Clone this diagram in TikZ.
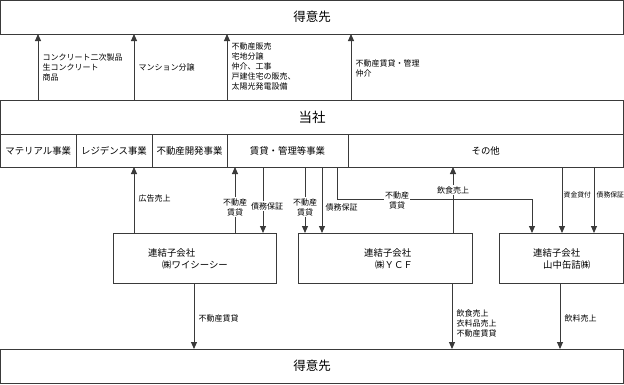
\documentclass[tikz,border=0pt]{standalone}
\usepackage{fontspec}
\setmainfont{Noto Sans CJK JP}
\usetikzlibrary{arrows.meta}
\definecolor{lc}{HTML}{3A3A3A}
\tikzset{
  frame/.style={draw=lc, line width=1pt, inner sep=0pt, outer sep=0pt},
  conn/.style={draw=lc, line width=0.9pt},
  arr/.style={conn, -{Triangle[length=7pt,width=6pt]}},
  lab/.style={font=\fontsize{8}{10}\selectfont, inner sep=0.5pt, align=left, text=black},
  slab/.style={lab, font=\fontsize{6.8}{9}\selectfont},
  wlab/.style={lab, fill=white, align=center, inner sep=1pt},
  boxtxt/.style={font=\fontsize{9.4}{11}\selectfont, inner sep=0pt, anchor=west},
  segtxt/.style={frame, font=\fontsize{9.4}{11}\selectfont, minimum height=33pt},
}
\begin{document}
\begin{tikzpicture}[x=1pt,y=-1pt]
\useasboundingbox (0,0) rectangle (624,384);
% main boxes
\node[frame, minimum width=623pt, minimum height=33.5pt, font=\fontsize{12.5}{14}\selectfont] (top) at (312,17.25) {得意先};
\node[frame, minimum width=623pt, minimum height=34pt, font=\fontsize{13.5}{15}\selectfont] (tosha) at (312,117) {当社};
\node[segtxt, minimum width=75.5pt] (seg1) at (38.25,150.5) {マテリアル事業};
\node[segtxt, minimum width=76pt] (seg2) at (114,150.5) {レジデンス事業};
\node[segtxt, minimum width=75pt] (seg3) at (189.5,150.5) {不動産開発事業};
\node[segtxt, minimum width=121pt] (seg4) at (287.5,150.5) {賃貸・管理等事業};
\node[segtxt, minimum width=275.5pt] (seg5) at (485.75,150.5) {その他};
\node[frame, minimum width=623pt, minimum height=34.5pt, font=\fontsize{12.5}{14}\selectfont] (bottom) at (312,366.25) {得意先};
% subsidiaries
\node[frame, minimum width=163pt, minimum height=50pt] (box1) at (194.5,258) {};
\node[frame, minimum width=174pt, minimum height=50pt] (box2) at (385,258) {};
\node[frame, minimum width=124.5pt, minimum height=50pt] (box3) at (561.25,258) {};
\node[boxtxt] (b1a) at (148,253) {連結子会社};
\node[boxtxt] (b1b) at (162,264.5) {㈱ワイシーシー};
\node[boxtxt] (b2a) at (364,253) {連結子会社};
\node[boxtxt] (b2b) at (375,264.5) {㈱ＹＣＦ};
\node[boxtxt] (b3a) at (533,253) {連結子会社};
\node[boxtxt] (b3b) at (543,264.5) {山中缶詰㈱};
% top arrows
\draw[arr] (38,0 |- tosha.north) -- (38,0 |- top.south);
\draw[arr] (134,0 |- tosha.north) -- (134,0 |- top.south);
\draw[arr] (227,0 |- tosha.north) -- (227,0 |- top.south);
\draw[arr] (351,0 |- tosha.north) -- (351,0 |- top.south);
\node[lab, anchor=west] (t1) at (42,67.5) {コンクリート二次製品\\生コンクリート\\商品};
\node[lab, anchor=west] (t2) at (138,67) {マンション分譲};
\node[lab, anchor=west] (t3) at (231,66) {不動産販売\\宅地分譲\\仲介、工事\\戸建住宅の販売、\\太陽光発電設備};
\node[lab, anchor=west] (t4) at (355,68) {不動産賃貸・管理\\仲介};
% middle connectors
\draw[arr] (134,0 |- box1.north) -- (134,0 |- seg2.south);
\draw[arr] (235,0 |- box1.north) -- (235,0 |- seg4.south);
\draw[arr] (263,0 |- seg4.south) -- (263,0 |- box1.north);
\draw[arr] (305,0 |- seg4.south) -- (305,0 |- box2.north);
\draw[arr] (322,0 |- seg4.south) -- (322,0 |- box2.north);
\coordinate (bend) at (337,199);
\draw[arr] (337,0 |- seg4.south) -- (bend) -| (532,0 |- box3.north);
\draw[arr] (453,0 |- box2.north) -- (453,0 |- seg5.south);
\draw[arr] (562,0 |- seg5.south) -- (562,0 |- box3.north);
\draw[arr] (594,0 |- seg5.south) -- (594,0 |- box3.north);
\node[lab, anchor=west] (m1) at (138,198) {広告売上};
\node[wlab] (m2) at (235,207) {不動産\\賃貸};
\node[wlab] (m3) at (267,206) {債務保証};
\node[wlab] (m4) at (305,207) {不動産\\賃貸};
\node[lab, anchor=west] (m5) at (325,207) {債務保証};
\node[wlab] (m6) at (397,200) {不動産\\賃貸};
\node[wlab] (m7) at (453,190) {飲食売上};
\node[slab, anchor=west] (m8) at (563,195) {資金貸付};
\node[slab, anchor=west] (m9) at (596,195) {債務保証};
% bottom connectors
\draw[arr] (194,0 |- box1.south) -- (194,0 |- bottom.north);
\draw[arr] (452,0 |- box2.south) -- (452,0 |- bottom.north);
\draw[arr] (560,0 |- box3.south) -- (560,0 |- bottom.north);
\node[lab, anchor=west] (u1) at (198,318) {不動産賃貸};
\node[lab, anchor=west] (u2) at (456,323) {飲食売上\\衣料品売上\\不動産賃貸};
\node[lab, anchor=west] (u3) at (564,318) {飲料売上};
\end{tikzpicture}
\end{document}
